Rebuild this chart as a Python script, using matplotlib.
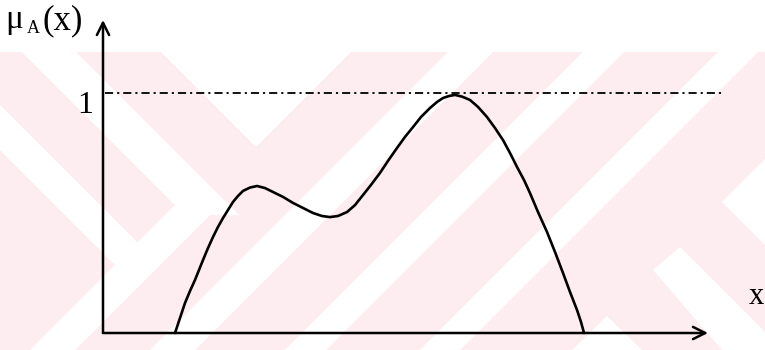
import matplotlib
matplotlib.use("Agg")
import matplotlib.pyplot as plt
from matplotlib.patches import Rectangle, Polygon

# ---- data ----
x_vals = [0.72, 0.77, 0.82, 0.87, 0.92, 1.00, 1.05, 1.10, 1.15, 1.20, 1.25, 1.30,
          1.35, 1.40, 1.47, 1.54, 1.62, 1.70, 1.80, 1.90, 2.00, 2.10, 2.19, 2.27,
          2.35, 2.44, 2.52, 2.60, 2.68, 2.77, 2.85, 2.94, 3.02, 3.10, 3.18, 3.27,
          3.34, 3.40, 3.46, 3.52, 3.59, 3.67, 3.75, 3.84, 3.92, 4.00, 4.07, 4.14,
          4.21, 4.27, 4.35, 4.44, 4.52, 4.60, 4.67, 4.74, 4.78, 4.81]
mu_vals = [0.0, 0.0625, 0.125, 0.175, 0.221, 0.304, 0.354, 0.40, 0.442, 0.479, 0.5125, 0.546,
           0.571, 0.592, 0.606, 0.6125, 0.604, 0.5875, 0.567, 0.542, 0.521, 0.50, 0.4875, 0.483,
           0.4875, 0.504, 0.533, 0.575, 0.617, 0.667, 0.717, 0.771, 0.817, 0.858, 0.90, 0.9375,
           0.9625, 0.979, 0.9875, 0.992, 0.985, 0.971, 0.942, 0.90, 0.854, 0.804, 0.75, 0.692,
           0.6375, 0.583, 0.504, 0.421, 0.3375, 0.25, 0.171, 0.096, 0.046, 0.0]
one_level = 1.0
y_tick_label = "1"
x_label = "x"
y_label_main = "\u03bc"
y_label_sub = "A"
y_label_arg = "(x)"

SERIF = ['Liberation Serif', 'DejaVu Serif']

W, H = 765, 350
fig = plt.figure(figsize=(W / 100, H / 100), dpi=100)
fig.patch.set_facecolor('white')

# ---- faint watermark in the background ----
bg = fig.add_axes([0, 0, 1, 1], zorder=-5)
bg.set_xlim(0, W)
bg.set_ylim(H, 0)
bg.axis('off')
pink = '#fdedf0'
rect = Rectangle((0, 52), W, H - 52, facecolor=pink, edgecolor='none')
bg.add_patch(rect)

def band(kind, a, b, ya, yb):
    if kind == '\\':
        return [(a + ya, ya), (b + ya, ya), (b + yb, yb), (a + yb, yb)]
    return [(a - ya, ya), (b - ya, ya), (b - yb, yb), (a - yb, yb)]

white_shapes = [
    band('\\', -30, 24, 52, 215),
    [(161, 52), (351, 52), (256, 147)],
    band('\\', -150, -105, 52, 265),
    band('/', 380, 425, 205, 350),
    band('/', 500, 545, 52, 350),
    band('/', 635, 676, 52, 350),
    band('/', 770, 810, 52, 350),
    [(765, 159), (722, 202), (765, 245)],
    [(680, 247), (765, 332), (765, 400), (653, 270)],
    [(572, 350), (607, 316), (642, 350)],
]
for pts in white_shapes:
    p = Polygon(pts, closed=True, facecolor='white', edgecolor='none')
    bg.add_patch(p)
    p.set_clip_path(rect)

# ---- main axes ----
x0, y0 = 103, 333
x1, y1 = 708, 20
ax = fig.add_axes([x0 / W, (H - y0) / H, (x1 - x0) / W, (y0 - y1) / H])
ax.patch.set_alpha(0)
ax.set_xlim(0, (x1 - x0) / 100)
ax.set_ylim(0, (y0 - y1) / 240)
for s in ax.spines.values():
    s.set_visible(False)
ax.set_xticks([])
ax.set_yticks([])

arrow_kw = dict(arrowstyle='->', lw=1.8, color='black', mutation_scale=22,
                shrinkA=0, shrinkB=0)
ax.annotate('', xy=(1, 0), xytext=(0, 0), xycoords='axes fraction',
            textcoords='axes fraction', arrowprops=arrow_kw)
ax.annotate('', xy=(0, 1), xytext=(0, 0), xycoords='axes fraction',
            textcoords='axes fraction', arrowprops=arrow_kw)

# dash-dot level line at mu = 1
ax.plot([0.004, 1.028], [one_level, one_level], transform=ax.get_yaxis_transform(),
        color='black', lw=1.3, linestyle=(0, (4.5, 2.2, 1.2, 2.2)), clip_on=False)

# membership curve
ax.plot(x_vals, mu_vals, color='black', lw=1.9, solid_joinstyle='round',
        solid_capstyle='round', clip_on=False)

# labels
def px_text(x, y, s, **kw):
    fig.text(x / W, 1 - y / H, s, family=SERIF, color='black', **kw)

px_text(93, 91, y_tick_label, ha='right', va='top', fontsize=23)
px_text(756, 296, x_label, ha='center', va='center', fontsize=22)
px_text(5, 28, y_label_main, ha='left', va='baseline', fontsize=24)
px_text(27, 33, y_label_sub, ha='left', va='baseline', fontsize=13)
px_text(42, 29, y_label_arg, ha='left', va='baseline', fontsize=25)

fig.savefig('out.png', dpi=100)
